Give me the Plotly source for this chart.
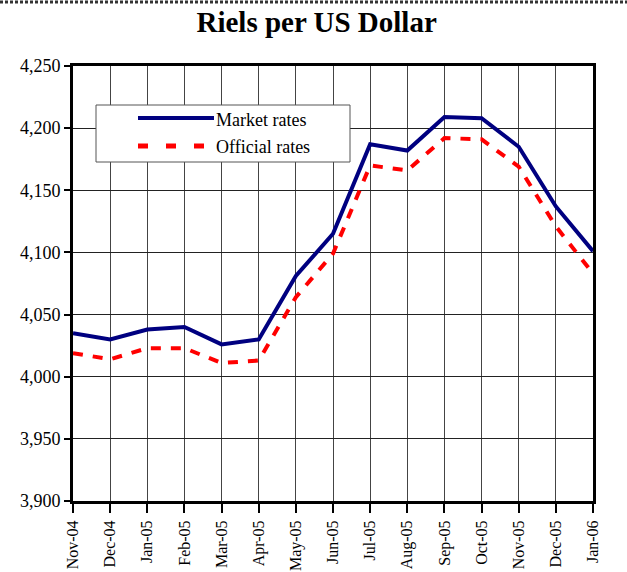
import plotly.graph_objects as go

months = ["Nov-04", "Dec-04", "Jan-05", "Feb-05", "Mar-05", "Apr-05", "May-05",
          "Jun-05", "Jul-05", "Aug-05", "Sep-05", "Oct-05", "Nov-05", "Dec-05", "Jan-06"]
market_rates = [4035, 4030, 4038, 4040, 4026, 4030, 4081, 4115, 4187, 4182, 4209, 4208, 4185, 4137, 4101]
official_rates = [4019, 4014, 4023, 4023, 4011, 4013, 4064, 4099, 4170, 4166, 4192, 4191, 4169, 4121, 4083]
y_ticks = [3900, 3950, 4000, 4050, 4100, 4150, 4200, 4250]

FONT = "Liberation Serif, Times New Roman, serif"
NAVY = "#000080"
RED = "#ff0000"

L, R, T, B = 73, 34, 66, 71
W, H = 627, 572
PW, PH = W - L - R, H - T - B


def px(x):
    return (x - L) / PW


def py(y):
    return (H - B - y) / PH


fig = go.Figure()
fig.add_trace(go.Scatter(x=months, y=market_rates, mode="lines", name="Market rates",
                         line=dict(color=NAVY, width=4), showlegend=False))
fig.add_trace(go.Scatter(x=months, y=official_rates, mode="lines", name="Official rates",
                         line=dict(color=RED, width=4, dash="10px,10px"), showlegend=False))

fig.update_layout(
    width=W, height=H,
    margin=dict(l=L, r=R, t=T, b=B),
    paper_bgcolor="white", plot_bgcolor="white",
    font=dict(family=FONT, color="black"),
    title=dict(text="<b>Riels per US Dollar</b>", x=0.505, xanchor="center",
               y=1 - 22 / H, yanchor="middle",
               font=dict(family=FONT, size=29, color="black")),
    showlegend=False,
)

fig.update_xaxes(type="category", range=[0, 14], tickangle=-90, automargin=False,
                 showgrid=True, gridcolor="#444444", gridwidth=1,
                 showline=True, linecolor="black", linewidth=3, mirror=True,
                 ticks="outside", ticklen=9, tickcolor="black", tickwidth=2,
                 ticklabelstandoff=1,
                 tickfont=dict(family=FONT, size=16, color="black"))
fig.update_yaxes(range=[3900, 4250], tickvals=y_ticks, automargin=False,
                 ticktext=[f"{v:,}" for v in y_ticks],
                 showgrid=True, gridcolor="#222222", gridwidth=1,
                 showline=True, linecolor="black", linewidth=3, mirror=True,
                 ticks="outside", ticklen=6, tickcolor="black", tickwidth=2,
                 zeroline=False,
                 tickfont=dict(family=FONT, size=18, color="black"))

# dotted rule across the top of the page
fig.add_shape(type="line", xref="paper", yref="paper",
              x0=px(0), x1=px(W), y0=py(2), y1=py(2),
              line=dict(color="#333333", width=3, dash="3px,2px"))

# legend box
fig.add_shape(type="rect", xref="paper", yref="paper",
              x0=px(96), x1=px(350), y0=py(162), y1=py(105),
              fillcolor="white", line=dict(color="#555555", width=1), layer="above")
fig.add_shape(type="line", xref="paper", yref="paper",
              x0=px(138), x1=px(214), y0=py(118), y1=py(118),
              line=dict(color=NAVY, width=4), layer="above")
for x0 in (138, 166, 194):
    fig.add_shape(type="line", xref="paper", yref="paper",
                  x0=px(x0), x1=px(x0 + 10), y0=py(146), y1=py(146),
                  line=dict(color=RED, width=5), layer="above")
fig.add_annotation(xref="paper", yref="paper", x=px(214), y=py(120),
                   xanchor="left", yanchor="middle", showarrow=False,
                   text="Market rates", font=dict(family=FONT, size=18, color="black"))
fig.add_annotation(xref="paper", yref="paper", x=px(214), y=py(147),
                   xanchor="left", yanchor="middle", showarrow=False,
                   text="Official rates", font=dict(family=FONT, size=18, color="black"))

fig.write_html("out.html", config={"displayModeBar": False},
               post_script="document.body.style.margin='0';document.body.style.overflow='hidden';")
